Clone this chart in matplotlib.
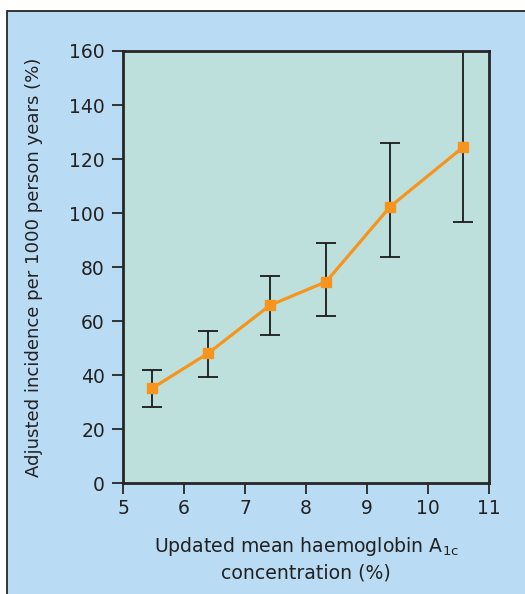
import matplotlib
matplotlib.use('Agg')
import matplotlib.pyplot as plt
from matplotlib.patches import Rectangle

# values
hba1c = [5.48, 6.40, 7.41, 8.33, 9.38, 10.58]
incidence = [35.2, 48.2, 65.9, 74.6, 102.4, 124.5]
ci_low = [28.3, 39.4, 54.9, 61.8, 83.7, 96.8]
ci_high = [42.0, 56.3, 76.8, 88.8, 126.0, 160.0]

x_ticks = [5, 6, 7, 8, 9, 10, 11]
y_ticks = [0, 20, 40, 60, 80, 100, 120, 140, 160]

plt.rcParams['font.family'] = ['DejaVu Sans']
plt.rcParams['mathtext.default'] = 'regular'

fig_bg = '#b9dbf3'
ax_bg = '#bde0dd'
orange = '#f7941d'
dark = '#262626'
txt = '#222222'

fig = plt.figure(figsize=(5.25, 5.94), dpi=100, facecolor='white')

# light blue panel with dark border (top left corner visible only)
fig.patches.append(Rectangle((7 / 525, -0.05), 1.2, 1 - 11 / 594 + 0.05,
                             transform=fig.transFigure, facecolor=fig_bg,
                             edgecolor=dark, linewidth=1.3, zorder=-1))

ax = fig.add_axes([123 / 525, 1 - 483.3 / 594, (489 - 123) / 525, (483.3 - 51) / 594])
ax.set_facecolor(ax_bg)

err_lo = [m - lo for m, lo in zip(incidence, ci_low)]
err_hi = [hi - m for m, hi in zip(incidence, ci_high)]
ax.errorbar(hba1c, incidence, yerr=[err_lo, err_hi], fmt='none',
            ecolor='#1a1a1a', elinewidth=1.3, capsize=7, capthick=1.3, zorder=2)
ax.plot(hba1c, incidence, color=orange, linewidth=2.3, marker='s',
        markersize=6.5, zorder=3)

ax.set_xlim(5, 11)
ax.set_ylim(0, 160)
ax.set_xticks(x_ticks)
ax.set_yticks(y_ticks)
ax.tick_params(direction='out', length=8, width=1.3, color=dark,
               labelsize=13.5, labelcolor=txt)
ax.tick_params(axis='y', pad=5)

for s in ax.spines.values():
    s.set_linewidth(2)
    s.set_color(dark)

ax.set_ylabel('Adjusted incidence per 1000 person years (%)', fontsize=13.1,
              color=txt, labelpad=19)
ax.set_xlabel('Updated mean haemoglobin A$_{1c}$\nconcentration (%)', fontsize=13.6,
              color=txt, labelpad=12, linespacing=1.35)

fig.savefig('out.png', dpi=100, facecolor=fig.get_facecolor())
